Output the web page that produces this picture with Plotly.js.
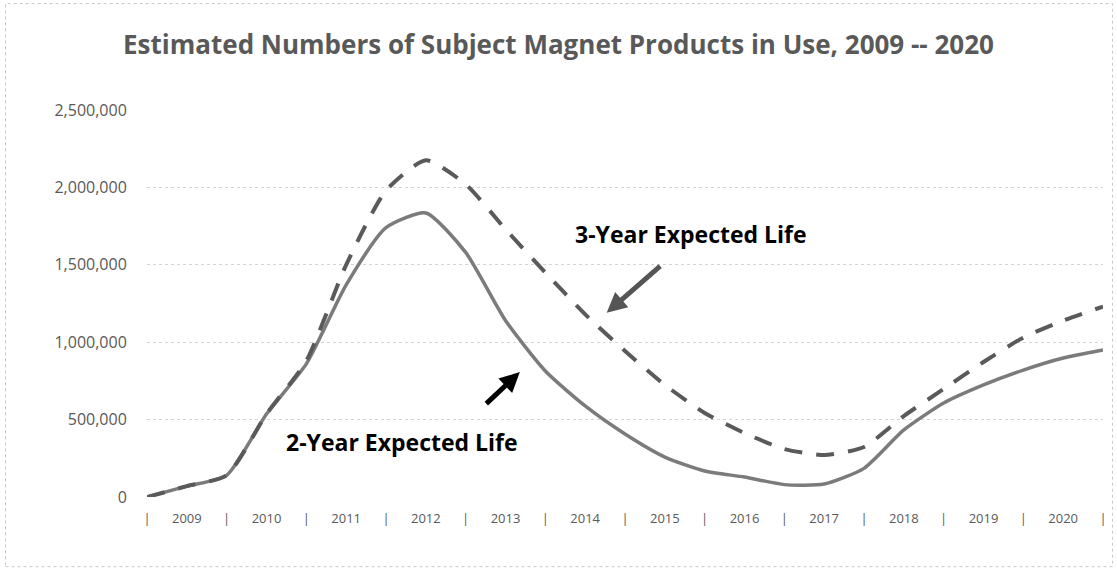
<!DOCTYPE html>
<html>
<head>
<meta charset="utf-8">
<script src="https://cdn.plot.ly/plotly-3.0.1.min.js"></script>
<style>html,body{margin:0;padding:0;background:#fff;}#chart{width:1117px;height:573px;}</style>
</head>
<body>
<div id="chart"></div>
<script>
// Half-year time points (fractional years)
const periods = [2009.0, 2009.5, 2010.0, 2010.5, 2011.0, 2011.5, 2012.0, 2012.5, 2013.0, 2013.5,
                 2014.0, 2014.5, 2015.0, 2015.5, 2016.0, 2016.5, 2017.0, 2017.5, 2018.0, 2018.5,
                 2019.0, 2019.5, 2020.0, 2020.5, 2021.0];
const twoYearLife = [0, 70000, 140000, 536000, 860000, 1370000, 1740000, 1835000, 1580000, 1140000,
                     814000, 588000, 407000, 258000, 168000, 129000, 80000, 84000, 185000, 433000,
                     607000, 724000, 820000, 898000, 950000];
const threeYearLife = [0, 70000, 140000, 536000, 880000, 1500000, 1980000, 2175000, 2020000, 1730000,
                       1450000, 1180000, 943000, 724000, 543000, 413000, 310000, 271000, 323000, 523000,
                       698000, 872000, 1030000, 1140000, 1230000];
const yearLabels = ["2009","2010","2011","2012","2013","2014","2015","2016","2017","2018","2019","2020"];
const yearStarts = [2009,2010,2011,2012,2013,2014,2015,2016,2017,2018,2019,2020,2021];
const yTicks = [0, 500000, 1000000, 1500000, 2000000, 2500000];

const tickvals = [], ticktext = [];
yearStarts.forEach(v => { tickvals.push(v); ticktext.push('|'); });
yearLabels.forEach(l => { tickvals.push(+l + 0.5); ticktext.push(l); });

const traces = [
  {x: periods, y: twoYearLife, type: 'scatter', mode: 'lines', name: '2-Year Expected Life',
   line: {color: '#7b7b7b', width: 3.5, shape: 'spline', smoothing: 0.6}},
  {x: periods, y: threeYearLife, type: 'scatter', mode: 'lines', name: '3-Year Expected Life',
   line: {color: '#5a5a5a', width: 4, dash: '18px,14px', shape: 'spline', smoothing: 0.6}}
];

const layout = {
  width: 1117, height: 573,
  margin: {l: 147, r: 14, t: 110, b: 76},
  paper_bgcolor: '#ffffff', plot_bgcolor: '#ffffff',
  showlegend: false,
  font: {family: '"Open Sans", sans-serif', color: '#595959'},
  title: {text: 'Estimated Numbers of Subject Magnet Products in Use, 2009 -- 2020',
          font: {family: '"Open Sans", sans-serif', size: 26, color: '#595959', weight: 'bold'},
          x: 0.5, xref: 'container', xanchor: 'center', y: 0.922, yanchor: 'middle'},
  xaxis: {range: [2009, 2021], tickmode: 'array', tickvals: tickvals, ticktext: ticktext,
          showgrid: false, zeroline: false, showline: false,
          ticks: 'outside', ticklen: 9, tickcolor: 'rgba(0,0,0,0)',
          tickfont: {size: 13, color: '#595959'}, fixedrange: true},
  yaxis: {range: [0, 2500000], tickmode: 'array', tickvals: yTicks,
          ticktext: yTicks.map(v => v.toLocaleString('en-US')),
          showgrid: true, gridcolor: '#d4d4d4', gridwidth: 1, griddash: 'dot',
          zeroline: false, showline: false,
          ticks: 'outside', ticklen: 16, tickcolor: 'rgba(0,0,0,0)',
          tickfont: {size: 16, color: '#595959'}, fixedrange: true},
  shapes: [
    {type: 'rect', xref: 'paper', yref: 'paper', x0: -0.148, x1: 1.01, y0: -0.18, y1: 1.275,
     line: {color: '#c8c8c8', width: 1, dash: 'dot'}}
  ],
  annotations: [
    {x: 2015.83, y: 1700000, xref: 'x', yref: 'y', text: '<b>3-Year Expected Life</b>', showarrow: false,
     font: {family: '"Open Sans", sans-serif', size: 23, color: '#000000'}},
    {x: 2014.77, y: 1190000, xref: 'x', yref: 'y', text: '', showarrow: true,
     ax: 55, ay: -48, arrowhead: 2, arrowsize: 0.8, arrowwidth: 5, arrowcolor: '#555555'},
    {x: 2012.2, y: 355000, xref: 'x', yref: 'y', text: '<b>2-Year Expected Life</b>', showarrow: false,
     font: {family: '"Open Sans", sans-serif', size: 23, color: '#000000'}},
    {x: 2013.68, y: 807000, xref: 'x', yref: 'y', text: '', showarrow: true,
     ax: -35, ay: 33, arrowhead: 2, arrowsize: 0.8, arrowwidth: 5, arrowcolor: '#000000'}
  ]
};

Plotly.newPlot('chart', traces, layout, {displayModeBar: false, staticPlot: true});
</script>
</body>
</html>
